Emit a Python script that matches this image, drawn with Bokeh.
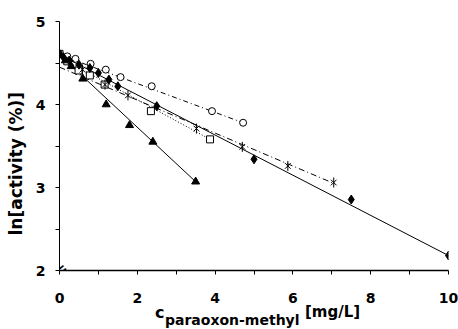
import math
from bokeh.plotting import figure
from bokeh.layouts import column
from bokeh.models import Range1d, Label, FixedTicker, Div
from bokeh.embed import file_html
from bokeh.resources import INLINE

# ---- data ----
tri_x = [0, 0.15, 0.3, 0.6, 1.2, 1.8, 2.4, 3.5]
tri_y = [4.61, 4.53, 4.46, 4.31, 4.0, 3.75, 3.55, 3.07]
tri_fit_x = [0, 3.5]
tri_fit_y = [4.6, 3.07]

dia_x = [0, 0.1, 0.25, 0.5, 0.78, 1.0, 1.27, 1.5, 2.5, 5.0, 7.5, 10.0]
dia_y = [4.61, 4.57, 4.53, 4.48, 4.44, 4.38, 4.30, 4.22, 3.98, 3.34, 2.855, 2.18]
dia_fit_x = [0, 10]
dia_fit_y = [4.6, 2.18]

cir_x = [0, 0.2, 0.41, 0.8, 1.19, 1.57, 2.37, 3.92, 4.72]
cir_y = [4.61, 4.58, 4.55, 4.49, 4.42, 4.33, 4.22, 3.92, 3.78]
cir_fit_x = [0, 4.72]
cir_fit_y = [4.6, 3.78]

sq_x = [0, 0.2, 0.49, 0.78, 1.16, 2.35, 3.87]
sq_y = [4.61, 4.52, 4.41, 4.35, 4.24, 3.92, 3.58]
sq_fit_x = [0, 3.87]
sq_fit_y = [4.57, 3.58]

ast_x = [0, 0.3, 0.59, 1.17, 1.76, 3.52, 4.7, 5.87, 7.05]
ast_y = [4.61, 4.50, 4.42, 4.24, 4.11, 3.71, 3.49, 3.26, 3.06]
ast_fit_x = [0, 7.05]
ast_fit_y = [4.45, 3.05]

x_ticks = [0, 2, 4, 6, 8, 10]
x_minor = [1, 3, 5, 7, 9]
y_ticks = [2, 3, 4, 5]
y_minor = [2.5, 3.5, 4.5]

y_title = "ln[activity (%)]"
x_title_main = "c"
x_title_sub = "paraoxon-methyl"
x_title_unit = "[mg/L]"

FONT = "DejaVu Sans"

p = figure(width=458, height=308, output_backend="svg", toolbar_location=None,
           x_range=Range1d(0, 10), y_range=Range1d(2, 5),
           min_border_left=59, min_border_right=10, min_border_top=21,
           min_border_bottom=38)
p.outline_line_color = None
p.grid.visible = False

for ax in (p.xaxis[0], p.yaxis[0]):
    ax.major_tick_in = 0
    ax.minor_tick_in = 0
    ax.major_tick_out = 4
    ax.minor_tick_out = 4
    ax.major_label_text_font = FONT
    ax.major_label_text_font_style = "bold"
    ax.major_label_text_font_size = "14px"
    ax.major_label_text_color = "black"
    ax.axis_line_color = "black"
    ax.major_tick_line_color = "black"
    ax.minor_tick_line_color = "black"

p.xaxis.ticker = FixedTicker(ticks=x_ticks, minor_ticks=x_minor)
p.yaxis.ticker = FixedTicker(ticks=y_ticks, minor_ticks=y_minor)
p.xaxis.major_label_standoff = 18
p.yaxis.major_label_standoff = 10
p.xaxis.axis_line_width = 1.5

p.yaxis.axis_label = y_title + "\u00a0" * 6
p.yaxis.axis_label_text_font = FONT
p.yaxis.axis_label_text_font_style = "bold"
p.yaxis.axis_label_text_font_size = "17px"
p.yaxis.axis_label_text_color = "black"
p.yaxis.axis_label_standoff = 7

# fit lines
p.line(tri_fit_x, tri_fit_y, line_color="black", line_width=1)
p.line(dia_fit_x, dia_fit_y, line_color="black", line_width=1)
p.line(cir_fit_x, cir_fit_y, line_color="black", line_width=1, line_dash="5 3 1 3")
p.line(sq_fit_x, sq_fit_y, line_color="black", line_width=1, line_dash="1 2")
p.line(ast_fit_x, ast_fit_y, line_color="black", line_width=1, line_dash="6 3 1 3")

# markers
p.scatter(cir_x, cir_y, marker="circle", size=7, fill_color="white", line_color="black")
p.scatter(sq_x, sq_y, marker="square", size=7, fill_color="white", line_color="black")
p.scatter(ast_x, ast_y, marker="x", size=8, line_color="black")
p.scatter(ast_x, ast_y, marker="dash", size=10, angle=math.pi / 2, line_color="black")
p.scatter(dia_x, dia_y, marker="diamond", size=9, fill_color="black", line_color="black")
p.scatter(tri_x, tri_y, marker="triangle", size=8, fill_color="black", line_color="black")

# axis break symbol
p.add_layout(Label(x=0, y=2, text="=", angle=math.radians(40), text_font=FONT,
                   text_font_size="20px", text_align="center", text_baseline="middle",
                   text_color="black"))

html = (
    '<div style="position:relative; width:458px; height:21px; font-family:\'DejaVu Sans\';'
    ' font-weight:bold; color:black; white-space:nowrap;">'
    '<span style="position:absolute; left:155px; top:-3px; font-size:16px; line-height:16px;">'
    + x_title_main + '</span>'
    '<span style="position:absolute; left:165px; top:5px; font-size:14px; line-height:14px;">'
    + x_title_sub + '</span>'
    '<span style="position:absolute; left:305px; top:-3px; font-size:15px; line-height:15px;">'
    + x_title_unit + '</span>'
    '</div>'
)
div = Div(text=html, width=458, height=21, margin=(0, 0, 0, 0))

layout = column(p, div, spacing=0)
open("out.html", "w").write(file_html(layout, INLINE))
